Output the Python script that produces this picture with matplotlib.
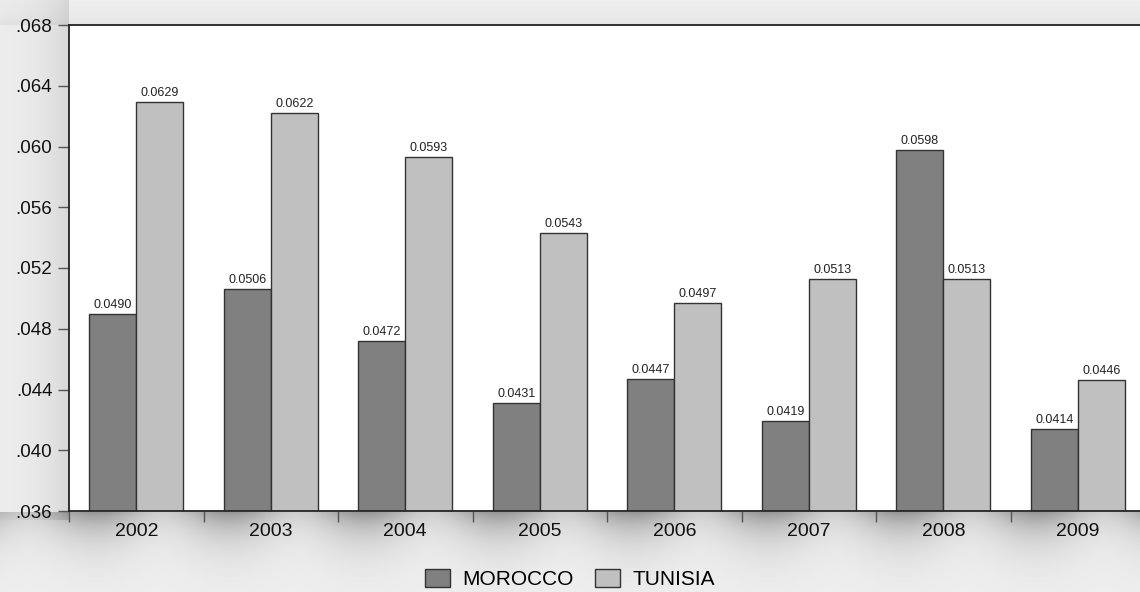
import numpy as np
import matplotlib
matplotlib.use('Agg')
import matplotlib.pyplot as plt
from matplotlib.ticker import FixedLocator, FuncFormatter

plt.rcParams['font.family'] = ['Liberation Sans', 'DejaVu Sans']

years = ['2002', '2003', '2004', '2005', '2006', '2007', '2008', '2009']
morocco = [0.0490, 0.0506, 0.0472, 0.0431, 0.0447, 0.0419, 0.0598, 0.0414]
tunisia = [0.0629, 0.0622, 0.0593, 0.0543, 0.0497, 0.0513, 0.0513, 0.0446]
series_names = ['MOROCCO', 'TUNISIA']
y_ticks = [0.036, 0.040, 0.044, 0.048, 0.052, 0.056, 0.060, 0.064, 0.068]

W, H = 1140, 592
fig = plt.figure(figsize=(W / 100, H / 100), dpi=100, facecolor='#eeeeee')

# soft drop-shadow backdrop, like the exported graph frame
yy, xx = np.mgrid[0:H, 0:W].astype(float)
bg = np.full((H, W), 0.94)
below = np.clip(yy - 511, 0, None)
bottom_shadow = np.where(yy > 511, 0.36 * np.exp(-below / 24.0), 0.0)
bottom_shadow *= 0.7 + 0.3 * np.cos((xx - 69) / 134.5 * 2 * np.pi - 1.2)
left_shadow = np.where(xx < 69, 0.10 * np.exp(-(69 - xx) / 30.0), 0.0) * (yy < 520)
top_shadow = np.where(yy < 25, 0.05 * np.exp(-(25 - yy) / 12.0), 0.0)
bg = np.clip(bg - bottom_shadow - left_shadow - top_shadow, 0, 1)
fig.figimage(np.dstack([bg, bg, bg]), xo=0, yo=0, origin='upper', zorder=-5)

ax = fig.add_axes([69 / W, 81 / H, (1145 - 69) / W, (511 - 25) / H])
ax.set_zorder(2)
ax.set_facecolor('white')

x = np.arange(len(years))
bw = 0.35
b1 = ax.bar(x - bw / 2, morocco, bw, color='#808080', edgecolor='#333333',
            linewidth=1.0, label=series_names[0])
b2 = ax.bar(x + bw / 2, tunisia, bw, color='#c0c0c0', edgecolor='#333333',
            linewidth=1.0, label=series_names[1])

for bars, vals in ((b1, morocco), (b2, tunisia)):
    for rect, v in zip(bars, vals):
        ax.text(rect.get_x() + rect.get_width() / 2, v + 0.0002, f'{v:.4f}',
                ha='center', va='bottom', fontsize=9, color='#222222')

ax.set_xlim(-0.5, len(years) - 0.5)
ax.set_ylim(0.036, 0.068)
ax.yaxis.set_major_locator(FixedLocator(y_ticks))
ax.yaxis.set_major_formatter(FuncFormatter(lambda v, p: f'{v:.3f}'.lstrip('0')))
ax.tick_params(axis='y', direction='out', length=8, width=1, color='#555555',
               labelsize=13.5, pad=4, labelcolor='#111111')

# category boundaries carry the ticks, year labels sit between them
ax.xaxis.set_major_locator(FixedLocator(np.arange(len(years) + 1) - 0.5))
ax.xaxis.set_major_formatter(FuncFormatter(lambda v, p: ''))
ax.xaxis.set_minor_locator(FixedLocator(x))
ax.set_xticklabels(years, minor=True)
ax.tick_params(axis='x', which='major', direction='out', length=8, width=1,
               color='#555555')
ax.tick_params(axis='x', which='minor', length=0, labelsize=14, pad=9,
               labelcolor='#111111')

for s in ('left', 'bottom', 'top'):
    ax.spines[s].set_linewidth(1.3)
    ax.spines[s].set_color('#222222')
ax.spines['right'].set_visible(False)

leg = fig.legend(handles=[b1, b2], loc='center', bbox_to_anchor=(0.5, 13 / H),
                 ncol=2, frameon=False, fontsize=15, handlelength=1.2,
                 handleheight=1.0, columnspacing=1.0, handletextpad=0.6,
                 borderpad=0.2)
leg.set_zorder(3)

fig.savefig('out.png', dpi=100, facecolor=fig.get_facecolor())
